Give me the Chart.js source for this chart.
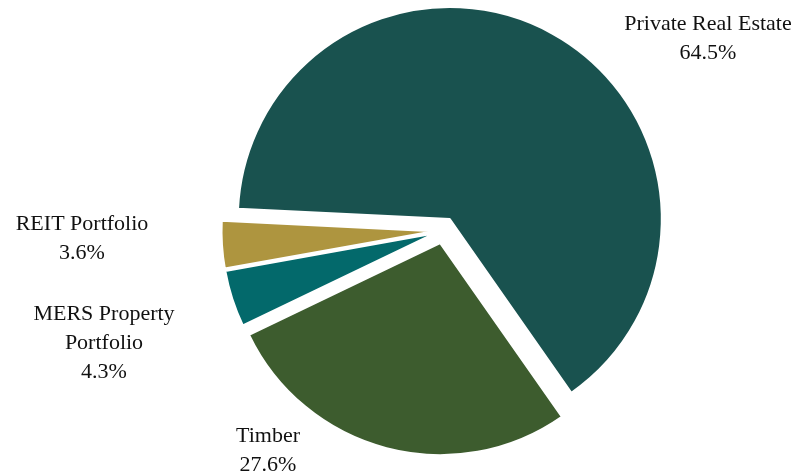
<!DOCTYPE html>
<html lang="en">
<head>
<meta charset="UTF-8" />
<script src="https://cdn.jsdelivr.net/npm/chart.js"></script>
<style>
  body { margin: 0; background: #fff; }
  #chart-container { width: 801px; height: 472px; }
</style>
<title>Real estate allocation</title>
</head>
<body>
<div id="chart-container"><canvas id="chart" width="801" height="472"></canvas></div>
<script>
const categories = ["Private Real Estate", "Timber", "MERS Property Portfolio", "REIT Portfolio"];
const shares = [64.5, 27.6, 4.3, 3.6];
const labelLines = [["Private Real Estate"], ["Timber"], ["MERS Property", "Portfolio"], ["REIT Portfolio"]];
const colors = ["#19524f", "#3d5c2e", "#03696b", "#ae953f"];

// label blocks: centre x, first baseline y
const labelSpots = [[708, 30], [268, 442], [104, 320], [82, 230]];
// how far each slice is pulled out, px
const explode = [13, 13, 10, 10];

// pull every slice out along its middle angle
const explodePlugin = {
  id: "explode",
  beforeDatasetsDraw(chart) {
    const ctx = chart.ctx;
    chart.getDatasetMeta(0).data.forEach((arc, i) => {
      const mid = (arc.startAngle + arc.endAngle) / 2;
      ctx.save();
      ctx.translate(Math.cos(mid) * explode[i], Math.sin(mid) * explode[i]);
      arc.draw(ctx);
      ctx.restore();
    });
    return false;
  },
};

const labelPlugin = {
  id: "labels",
  afterDraw(chart) {
    const ctx = chart.ctx;
    ctx.save();
    ctx.font = "22px 'Liberation Serif', 'Times New Roman', serif";
    ctx.fillStyle = "#111";
    ctx.textAlign = "center";
    ctx.textBaseline = "alphabetic";
    labelLines.forEach((lines, i) => {
      const [x, y] = labelSpots[i];
      const all = lines.concat([shares[i].toFixed(1) + "%"]);
      all.forEach((t, j) => ctx.fillText(t, x, y + j * 29));
    });
    ctx.restore();
  },
};

const chart = new Chart(document.getElementById("chart"), {
  type: "pie",
  data: {
    labels: categories,
    datasets: [
      {
        data: shares,
        backgroundColor: colors,
        borderColor: "#fff",
        borderWidth: 2,
      },
    ],
  },
  options: {
    responsive: false,
    animation: false,
    radius: 212,
    rotation: 272.8,
    layout: { padding: { left: 86, right: 0, top: 0, bottom: 11 } },
    plugins: {
      legend: { display: false },
      tooltip: { enabled: false },
    },
  },
  plugins: [explodePlugin, labelPlugin],
});
</script>
</body>
</html>
